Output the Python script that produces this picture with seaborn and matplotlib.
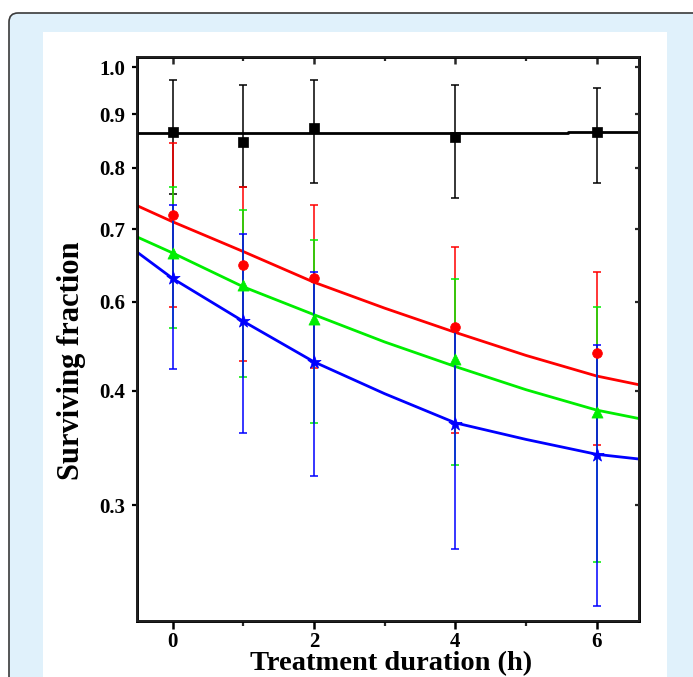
import matplotlib
matplotlib.use("Agg")
import numpy as np
import pandas as pd
import matplotlib.pyplot as plt
import seaborn as sns
from matplotlib.patches import Rectangle, FancyBboxPatch
from matplotlib.transforms import IdentityTransform
from matplotlib.ticker import NullLocator

# ---------------- data (values in the axis' log coordinate) ----------------
x_pts = [0, 1, 2, 4, 6]

black_y = [0.766, 0.747, 0.773, 0.755, 0.765]
black_hi = [0.872, 0.862, 0.872, 0.862, 0.854]
black_lo = [0.655, 0.667, 0.674, 0.648, 0.674]

red_y = [0.622, 0.548, 0.530, 0.469, 0.440]
red_hi = [0.745, 0.666, 0.637, 0.573, 0.539]
red_lo = [0.494, 0.431, 0.423, 0.360, 0.349]

green_y = [0.565, 0.521, 0.479, 0.433, 0.379]
green_hi = [0.666, 0.629, 0.584, 0.529, 0.494]
green_lo = [0.468, 0.414, 0.369, 0.332, 0.260]

blue_y = [0.531, 0.476, 0.430, 0.368, 0.340]
blue_hi = [0.637, 0.593, 0.539, 0.466, 0.449]
blue_lo = [0.422, 0.360, 0.323, 0.269, 0.233]

black_fit_x = [-0.5, 5.6, 5.6, 6.6]
black_fit = [0.7626, 0.7626, 0.7646, 0.7646]

fit_x = [-0.5, 0, 1, 2, 3, 4, 5, 6, 6.6]
red_fit = [0.636, 0.611, 0.567, 0.525, 0.492, 0.463, 0.437, 0.415, 0.406]
green_fit = [0.588, 0.565, 0.519, 0.484, 0.452, 0.425, 0.401, 0.381, 0.373]
blue_fit = [0.566, 0.530, 0.476, 0.430, 0.397, 0.369, 0.354, 0.341, 0.337]

x_ticks = [0, 2, 4, 6]
x_minor = [1, 3, 5]
y_tick_pos = [0.9, 0.8, 0.7, 0.6, 0.5, 0.4, 0.3]
y_tick_labels = ["1.0", "0.9", "0.8", "0.7", "0.6", "0.4", "0.3"]

# ---------------- style ----------------
sns.set_theme(style="white")
plt.rcParams['font.family'] = ['Liberation Serif', 'DejaVu Serif']
plt.rcParams['font.weight'] = 'bold'

W, H = 693, 677
fig = plt.figure(figsize=(W / 100, H / 100), dpi=100)
fig.patch.set_facecolor('white')

# page decoration
fig.patches.append(FancyBboxPatch((9, -60), 800, (H - 13) + 60,
                                  boxstyle="round,pad=0,rounding_size=9",
                                  transform=IdentityTransform(), fc='#E0F1FB',
                                  ec='#3a3a3a', lw=1.2, zorder=0))
fig.patches.append(Rectangle((43, -10), 624, (H - 32) + 10, transform=IdentityTransform(),
                             fc='white', ec='none', zorder=0.5))

L, R, T, B = 137.3, 639, 57.3, 621
ax = fig.add_axes([L / W, 1 - B / H, (R - L) / W, (B - T) / H])
ax.set_zorder(5)
ax.set_facecolor('white')
ax.set_yscale('log')

colors = {'black': 'black', 'red': '#FF0000', 'green': '#00EE00', 'blue': '#0000FF'}

# fitted curves
for fx, fy, c in [(black_fit_x, black_fit, 'black'), (fit_x, red_fit, 'red'),
                  (fit_x, green_fit, 'green'), (fit_x, blue_fit, 'blue')]:
    df = pd.DataFrame({'x': fx, 'y': fy})
    sns.lineplot(data=df, x='x', y='y', ax=ax, color=colors[c], lw=2.0,
                 sort=False, estimator=None, zorder=2)

# error bars
series = [
    ('black', black_y, black_lo, black_hi, 's', 7),
    ('red', red_y, red_lo, red_hi, 'o', 7),
    ('green', green_y, green_lo, green_hi, '^', 8),
    ('blue', blue_y, blue_lo, blue_hi, '*', 10),
]
for i, (c, y, lo, hi, m, ms) in enumerate(series):
    y = np.array(y); lo = np.array(lo); hi = np.array(hi)
    ax.errorbar(x_pts, y, yerr=[y - lo, hi - y], fmt='none', ecolor=colors[c],
                elinewidth=1.1, capsize=3, capthick=1.1, zorder=3 + i)

for i, (c, y, lo, hi, m, ms) in enumerate(series):
    df = pd.DataFrame({'x': x_pts, 'y': y})
    sns.scatterplot(data=df, x='x', y='y', ax=ax, color=colors[c], marker=m,
                    s=ms ** 2, edgecolor=colors[c], linewidth=0.5, zorder=8 + i)

ax.set_xlim(-0.5, 6.6)
ax.set_ylim(0.2245, 0.9229)
ax.set_xlabel('')
ax.set_ylabel('')

ax.set_xticks(x_ticks)
ax.set_xticks(x_minor, minor=True)
ax.set_xticklabels([str(v) for v in x_ticks])
ax.set_yticks(y_tick_pos)
ax.set_yticklabels(y_tick_labels)
ax.yaxis.set_minor_locator(NullLocator())

for sp in ax.spines.values():
    sp.set_linewidth(1.8)
    sp.set_color('black')

ax.tick_params(axis='x', which='major', direction='out', length=6, width=1.8,
               labelsize=15, pad=2, bottom=True, top=False, colors='black')
ax.tick_params(axis='x', which='minor', direction='out', length=3.5, width=1.6,
               bottom=True, top=False)
ax.tick_params(axis='y', which='major', direction='out', length=3.5, width=1.6,
               labelsize=15, pad=5, left=True, right=False, colors='black')
for lab in ax.get_xticklabels() + ax.get_yticklabels():
    lab.set_fontweight('bold')

# top and right inward ticks
ax_top = ax.twiny()
ax_top.set_zorder(6)
ax_top.set_xlim(ax.get_xlim())
ax_top.set_xticks(x_ticks)
ax_top.set_xticks(x_minor, minor=True)
ax_top.tick_params(axis='x', which='major', direction='in', length=5, width=1.8,
                   labeltop=False, top=True)
ax_top.tick_params(axis='x', which='minor', direction='in', length=3, width=1.6, top=True)
ax_top.tick_params(axis='y', left=False, right=False)
for sp in ax_top.spines.values():
    sp.set_linewidth(1.8)
    sp.set_color('black')

ax_r = ax.twinx()
ax_r.set_zorder(7)
ax_r.set_yscale('log')
ax_r.set_ylim(ax.get_ylim())
ax_r.set_yticks(y_tick_pos)
ax_r.yaxis.set_minor_locator(NullLocator())
ax_r.tick_params(axis='y', which='major', direction='in', length=3, width=1.6,
                 labelright=False, right=True)
for a in (ax, ax_top, ax_r):
    a.grid(False)

fig.text(72 / W, 1 - 361 / H, 'Surviving fraction', rotation=90, ha='center',
         va='center', fontsize=22, fontweight='bold', color='black', zorder=10)
fig.text(391 / W, 1 - 670 / H, 'Treatment duration (h)', ha='center',
         va='baseline', fontsize=20.5, fontweight='bold', color='black', zorder=10)

fig.savefig('out.png', dpi=100, facecolor=fig.get_facecolor())
